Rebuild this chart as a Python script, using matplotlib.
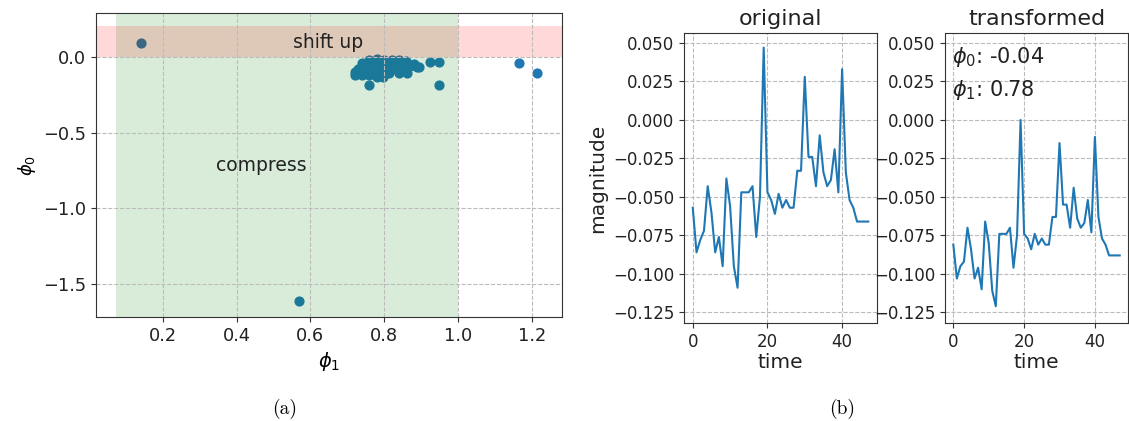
import matplotlib
matplotlib.use("Agg")
from matplotlib import pyplot as plt
import numpy as np

# (a) fitted parameters per series: phi1 (scale), phi0 (shift)
phi1 = [0.14, 0.57, 1.165, 1.215, 0.948, 0.948, 0.925, 0.894, 0.758,
        0.76, 0.78, 0.80, 0.82, 0.84, 0.86,
        0.74, 0.76, 0.78, 0.80, 0.82, 0.84, 0.86, 0.88,
        0.74, 0.75, 0.77, 0.79, 0.81, 0.83, 0.85, 0.87, 0.89,
        0.73, 0.75, 0.77, 0.79, 0.80, 0.82, 0.84, 0.86,
        0.72, 0.74, 0.76, 0.78, 0.80, 0.813, 0.84, 0.862,
        0.722, 0.74, 0.76, 0.781, 0.796]
phi0 = [0.092, -1.608, -0.044, -0.108, -0.187, -0.033, -0.033, -0.066, -0.187,
        -0.02, -0.018, -0.02, -0.02, -0.02, -0.03,
        -0.04, -0.04, -0.035, -0.04, -0.04, -0.04, -0.04, -0.045,
        -0.06, -0.06, -0.06, -0.055, -0.06, -0.06, -0.06, -0.06, -0.066,
        -0.08, -0.08, -0.08, -0.075, -0.08, -0.08, -0.08, -0.08,
        -0.10, -0.10, -0.10, -0.10, -0.095, -0.11, -0.11, -0.11,
        -0.121, -0.12, -0.12, -0.132, -0.132]

# (b) example series before / after the transform
original = [-0.057, -0.086, -0.078, -0.072, -0.043, -0.060, -0.086, -0.076,
            -0.095, -0.038, -0.056, -0.095, -0.109, -0.047, -0.047, -0.047,
            -0.043, -0.076, -0.050, 0.047, -0.047, -0.052, -0.061, -0.048,
            -0.057, -0.052, -0.057, -0.057, -0.033, -0.033, 0.028, -0.024,
            -0.024, -0.043, -0.010, -0.034, -0.043, -0.039, -0.019, -0.047,
            0.033, -0.034, -0.052, -0.057, -0.066, -0.066, -0.066, -0.066]
transformed = [-0.081, -0.103, -0.095, -0.092, -0.070, -0.084, -0.103, -0.096,
               -0.110, -0.066, -0.080, -0.111, -0.121, -0.074, -0.074, -0.074,
               -0.070, -0.096, -0.075, 0.000, -0.074, -0.077, -0.084, -0.074,
               -0.081, -0.077, -0.081, -0.081, -0.063, -0.063, -0.015, -0.055,
               -0.055, -0.070, -0.044, -0.064, -0.070, -0.067, -0.052, -0.073,
               -0.011, -0.063, -0.077, -0.081, -0.088, -0.088, -0.088, -0.088]
fit_phi0 = -0.04
fit_phi1 = 0.78

W, H = 1129, 421
fig = plt.figure(figsize=(W / 100, H / 100), dpi=100)


def px_axes(left, right, top, bottom):
    return fig.add_axes([left / W, 1 - bottom / H, (right - left) / W, (bottom - top) / H])


for_spines = '#333333'

# ---- (a) scatter
ax = px_axes(96, 562, 13, 317)
ax.scatter(phi1, phi0, color='#1f77b4', s=40)
ax.axvspan(0.073, 1.0, color='green', alpha=0.15, lw=0)
ax.axhspan(0.0, 0.2, color='red', alpha=0.15, lw=0)
ax.text(0.649, 0.092, 'shift up', ha='center', va='center', fontsize=13.5, color='#222222')
ax.text(0.467, -0.715, 'compress', ha='center', va='center', fontsize=13.5, color='#222222')
ax.set_xlim(0.019, 1.282)
ax.set_ylim(-1.716, 0.288)
ax.set_xticks([0.2, 0.4, 0.6, 0.8, 1.0, 1.2])
ax.set_yticks([-1.5, -1.0, -0.5, 0.0])
ax.tick_params(labelsize=12.8, colors='#333333', labelcolor='#222222')
ax.grid(True, linestyle='--', color='#bbbbbb', lw=0.8)
ax.set_xlabel(r'$\phi_1$', fontsize=14)
ax.set_ylabel(r'$\phi_0$', fontsize=13)
for s in ax.spines.values():
    s.set_color(for_spines)

# ---- (b) original / transformed
t = np.arange(len(original))
for (l, r), series, title in [((684, 877), original, 'original'),
                               ((945, 1128), transformed, 'transformed')]:
    bx = px_axes(l, r, 33, 323)
    bx.plot(t, series, color='#1f77b4', lw=1.5)
    bx.set_ylim(-0.1319, 0.0565)
    bx.set_yticks([-0.125, -0.1, -0.075, -0.05, -0.025, 0.0, 0.025, 0.05])
    bx.set_xticks([0, 20, 40])
    bx.tick_params(labelsize=12, colors='#333333', labelcolor='#222222')
    bx.grid(True, linestyle='--', color='#bbbbbb', lw=0.8)
    bx.set_title(title, fontsize=16, color='#222222')
    bx.set_xlabel('time', fontsize=14.5, color='#222222', labelpad=2)
    for s in bx.spines.values():
        s.set_color(for_spines)
    if title == 'original':
        bx.set_ylabel('magnitude', fontsize=14.5, color='#222222')
    else:
        bx.text(0.04, 0.96, '$\\phi_0$: %.2f\n$\\phi_1$: %.2f' % (fit_phi0, fit_phi1),
                transform=bx.transAxes, ha='left', va='top', fontsize=15,
                linespacing=1.5, color='#222222')

fig.text(285 / W, 1 - 409 / H, '(a)', family='cmr10', fontsize=14, ha='center', va='center')
fig.text(842 / W, 1 - 409 / H, '(b)', family='cmr10', fontsize=14, ha='center', va='center')

fig.savefig('out.png', dpi=100)
